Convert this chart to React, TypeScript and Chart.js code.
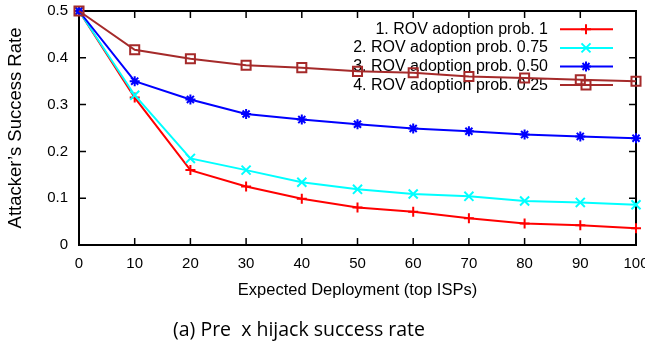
import React, { useEffect, useRef } from 'react';
import { Chart, registerables } from 'chart.js';
Chart.register(...registerables);

const deployment = [0, 10, 20, 30, 40, 50, 60, 70, 80, 90, 100];
const rov100 = [0.5, 0.315, 0.16, 0.125, 0.099, 0.08, 0.071, 0.057, 0.046, 0.042, 0.036];
const rov075 = [0.5, 0.32, 0.185, 0.16, 0.134, 0.119, 0.109, 0.104, 0.094, 0.091, 0.086];
const rov050 = [0.5, 0.35, 0.311, 0.28, 0.268, 0.258, 0.249, 0.243, 0.236, 0.232, 0.228];
const rov025 = [0.5, 0.417, 0.398, 0.384, 0.379, 0.371, 0.368, 0.36, 0.357, 0.353, 0.35];
const seriesLabels = [
  '1. ROV adoption prob. 1',
  '2. ROV adoption prob. 0.75',
  '3. ROV adoption prob. 0.50',
  '4. ROV adoption prob. 0.25',
];
const seriesColors = ['#ff0000', '#00ffff', '#0000ff', '#a52a2a'];
const seriesMarkers = ['plus', 'x', 'star', 'square'];
const xTickLabels = ['0', '10', '20', '30', '40', '50', '60', '70', '80', '90', '100'];
const yTickLabels = ['0', '0.1', '0.2', '0.3', '0.4', '0.5'];
const xTitle = 'Expected Deployment (top ISPs)';
const yTitle = 'Attacker\u2019s Success Rate';
const caption = '(a) Pre  x hijack success rate';

const FONT = '"Liberation Sans", Arial, Helvetica, sans-serif';

function drawMarker(ctx: CanvasRenderingContext2D, kind: string, x: number, y: number, color: string) {
  ctx.save();
  ctx.strokeStyle = color;
  ctx.lineWidth = 2;
  ctx.beginPath();
  if (kind === 'plus') {
    ctx.moveTo(x - 5, y); ctx.lineTo(x + 5, y);
    ctx.moveTo(x, y - 5); ctx.lineTo(x, y + 5);
  } else if (kind === 'x') {
    ctx.moveTo(x - 4.5, y - 4.5); ctx.lineTo(x + 4.5, y + 4.5);
    ctx.moveTo(x - 4.5, y + 4.5); ctx.lineTo(x + 4.5, y - 4.5);
  } else if (kind === 'star') {
    ctx.moveTo(x - 5, y); ctx.lineTo(x + 5, y);
    ctx.moveTo(x, y - 5); ctx.lineTo(x, y + 5);
    ctx.moveTo(x - 3.5, y - 3.5); ctx.lineTo(x + 3.5, y + 3.5);
    ctx.moveTo(x - 3.5, y + 3.5); ctx.lineTo(x + 3.5, y - 3.5);
  } else {
    ctx.rect(x - 4.5, y - 4.5, 9, 9);
  }
  ctx.stroke();
  ctx.restore();
}

const framePlugin = {
  id: 'frame',
  beforeDatasetsDraw(chart: any) {
    const { ctx, chartArea } = chart;
    const { left, right, top, bottom } = chartArea;
    const xs = chart.scales.x;
    const ys = chart.scales.y;
    ctx.save();
    ctx.strokeStyle = '#000';
    ctx.lineWidth = 1.5;
    ctx.beginPath();
    deployment.forEach((v) => {
      const px = xs.getPixelForValue(v);
      ctx.moveTo(px, bottom); ctx.lineTo(px, bottom - 7);
      ctx.moveTo(px, top); ctx.lineTo(px, top + 7);
    });
    yTickLabels.forEach((_, i) => {
      const py = ys.getPixelForValue(i * 0.1);
      ctx.moveTo(left, py); ctx.lineTo(left + 7, py);
      ctx.moveTo(right, py); ctx.lineTo(right - 7, py);
    });
    ctx.stroke();
    ctx.lineWidth = 2;
    ctx.strokeRect(left, top, right - left, bottom - top);
    // legend
    ctx.font = '16px ' + FONT;
    ctx.fillStyle = '#000';
    ctx.textAlign = 'right';
    ctx.textBaseline = 'middle';
    seriesLabels.forEach((lab, i) => {
      const y = 29.3 + i * 18.6;
      ctx.fillText(lab, 548, y);
      ctx.strokeStyle = seriesColors[i];
      ctx.lineWidth = 2;
      ctx.beginPath();
      ctx.moveTo(560, y); ctx.lineTo(613, y);
      ctx.stroke();
      drawMarker(ctx, seriesMarkers[i], 586, y, seriesColors[i]);
    });
    ctx.restore();
  },
};

export default function App() {
  const ref = useRef<HTMLCanvasElement>(null);
  useEffect(() => {
    const canvas = ref.current!;
    const allSeries = [rov100, rov075, rov050, rov025];
    const styles = ['cross', 'crossRot', 'star', 'rect'];
    const radii = [5, 6.4, 5, 6.4];
    const datasets = allSeries.map((vals, i) => ({
      label: seriesLabels[i],
      data: vals.map((y, j) => ({ x: deployment[j], y })),
      borderColor: seriesColors[i],
      backgroundColor: 'transparent',
      borderWidth: 2,
      pointStyle: styles[i],
      pointRadius: radii[i],
      pointBorderWidth: 2,
      pointBorderColor: seriesColors[i],
      pointBackgroundColor: 'transparent',
      tension: 0,
      clip: false,
      order: 3 - i,
    }));
    const tickFont = { family: FONT, size: 15 };
    const chart = new Chart(canvas, {
      type: 'line',
      data: { datasets },
      options: {
        animation: false,
        responsive: false,
        devicePixelRatio: 1,
        layout: { padding: { top: 11, right: 9, left: 0, bottom: 48 } },
        plugins: { legend: { display: false }, tooltip: { enabled: false } },
        scales: {
          x: {
            type: 'linear',
            min: 0,
            max: 100,
            ticks: {
              stepSize: 10,
              autoSkip: false,
              maxRotation: 0,
              padding: 10,
              color: '#000',
              font: tickFont,
              callback: (v: any) => xTickLabels[Math.round(Number(v) / 10)],
            },
            grid: { display: false, drawTicks: false },
            border: { display: false },
            title: { display: true, text: xTitle, color: '#000', font: { family: FONT, size: 16.5 }, padding: 0 },
            afterFit: (s: any) => { s.height = 55; s.paddingLeft = 0; s.paddingRight = 0; },
          },
          y: {
            type: 'linear',
            min: 0,
            max: 0.5,
            ticks: {
              stepSize: 0.1,
              padding: 11,
              color: '#000',
              font: tickFont,
              callback: (v: any) => yTickLabels[Math.round(Number(v) * 10)],
            },
            grid: { display: false, drawTicks: false },
            border: { display: false },
            title: { display: true, text: yTitle, color: '#000', font: { family: FONT, size: 18.5 }, padding: { top: 5, bottom: 0 } },
            afterFit: (s: any) => { s.width = 79; s.paddingTop = 0; s.paddingBottom = 0; },
          },
        },
      },
      plugins: [framePlugin],
    } as any);
    return () => chart.destroy();
  }, []);
  return (
    <div style={{ position: 'fixed', left: 0, top: 0, width: 645, height: 348, background: '#fff', overflow: 'hidden' }}>
      <canvas ref={ref} width={645} height={348} style={{ position: 'absolute', left: 0, top: 0 }} />
      <div
        style={{
          position: 'absolute',
          left: 0,
          width: 598,
          top: 316,
          textAlign: 'center',
          whiteSpace: 'pre',
          fontFamily: '"Open Sans", sans-serif',
          fontSize: 19.5,
          lineHeight: '26px',
          color: '#000',
        }}
      >
        {caption}
      </div>
    </div>
  );
}
